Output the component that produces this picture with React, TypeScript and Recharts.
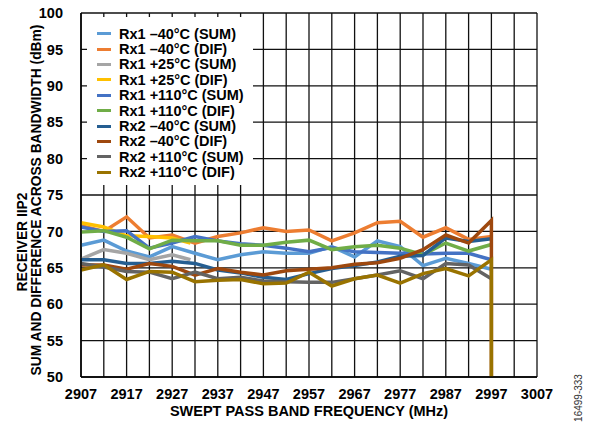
import { CartesianGrid, Legend, Line, LineChart, XAxis, YAxis } from "recharts";

// swept frequencies (MHz), one measurement every 5 MHz
const freqs = [
  2907, 2912, 2917, 2922, 2927, 2932, 2937, 2942, 2947, 2952, 2957, 2962,
  2967, 2972, 2977, 2982, 2987, 2992, 2997,
];
// +25°C sweep stops early
const freqs25 = [2907, 2912, 2917, 2922, 2927, 2931];
// Rx2 DIF traces fall off the bottom at the last point
const freqsDrop = [...freqs, 2997];

const xTicks = [
  2907, 2912, 2917, 2922, 2927, 2932, 2937, 2942, 2947, 2952, 2957, 2962,
  2967, 2972, 2977, 2982, 2987, 2992, 2997, 3002, 3007,
];
const yTicks = [50, 55, 60, 65, 70, 75, 80, 85, 90, 95, 100];

const rx1m40Sum = [68.1, 68.8, 67.3, 66.5, 67.9, 67.0, 66.1, 66.8, 67.2, 67.0, 67.0, 67.9, 66.5, 68.7, 67.9, 65.3, 66.3, 65.6, 64.8];
const rx1m40Dif = [70.8, 70.0, 72.0, 69.1, 69.5, 68.4, 69.3, 69.8, 70.5, 70.0, 70.2, 68.7, 69.8, 71.2, 71.4, 69.2, 70.5, 68.9, 69.3];
const rx1p25Sum = [66.2, 67.5, 67.0, 66.1, 66.8, 66.1];
const rx1p25Dif = [71.2, 70.6, 69.4, 69.3, 69.1, 68.4];
const rx1p110Sum = [70.6, 70.0, 70.1, 67.7, 68.4, 69.3, 68.7, 68.3, 68.1, 67.7, 67.2, 67.8, 67.2, 67.1, 67.0, 66.9, 67.0, 67.0, 66.1];
const rx1p110Dif = [69.9, 70.1, 69.2, 67.6, 68.8, 68.7, 68.7, 68.1, 68.1, 68.5, 68.8, 67.5, 67.9, 68.1, 67.7, 66.8, 68.4, 67.3, 68.2];
const rx2m40Sum = [66.1, 66.1, 65.6, 65.6, 65.9, 65.6, 64.7, 64.3, 63.7, 63.4, 64.2, 64.9, 65.3, 65.8, 66.6, 66.7, 69.1, 68.6, 69.0];
const rx2m40Dif = [65.4, 65.4, 64.8, 65.6, 65.2, 64.0, 64.9, 64.4, 64.0, 64.6, 64.8, 65.0, 65.5, 65.7, 66.3, 67.5, 69.5, 68.4, 71.5, 0];
const rx2p110Sum = [65.6, 65.1, 64.5, 64.4, 63.5, 64.4, 63.5, 63.7, 63.2, 63.1, 63.0, 63.0, 63.5, 64.0, 64.6, 63.5, 65.6, 65.4, 63.5];
const rx2p110Dif = [64.7, 65.4, 63.4, 64.5, 64.4, 63.1, 63.3, 63.4, 62.8, 62.9, 64.4, 62.5, 63.5, 64.0, 62.9, 64.2, 64.9, 63.9, 66.1, 0];

const series = [
  { name: "Rx1 –40°C (SUM)", color: "#5B9BD5", x: freqs, y: rx1m40Sum },
  { name: "Rx1 –40°C (DIF)", color: "#ED7D31", x: freqs, y: rx1m40Dif },
  { name: "Rx1 +25°C (SUM)", color: "#A5A5A5", x: freqs25, y: rx1p25Sum },
  { name: "Rx1 +25°C (DIF)", color: "#FFC000", x: freqs25, y: rx1p25Dif },
  { name: "Rx1 +110°C (SUM)", color: "#4472C4", x: freqs, y: rx1p110Sum },
  { name: "Rx1 +110°C (DIF)", color: "#70AD47", x: freqs, y: rx1p110Dif },
  { name: "Rx2 –40°C (SUM)", color: "#255E91", x: freqs, y: rx2m40Sum },
  { name: "Rx2 –40°C (DIF)", color: "#9E480E", x: freqsDrop, y: rx2m40Dif },
  { name: "Rx2 +110°C (SUM)", color: "#636363", x: freqs, y: rx2p110Sum },
  { name: "Rx2 +110°C (DIF)", color: "#997300", x: freqsDrop, y: rx2p110Dif },
];

const FONT = '"Liberation Sans", Arial, sans-serif';

const renderLegend = () => (
  <div
    style={{
      background: "#fff",
      width: 166,
      height: 168,
      padding: "9px 0 0 10px",
      boxSizing: "border-box",
      fontFamily: FONT,
    }}
  >
    {series.map((s) => (
      <div key={s.name} style={{ display: "flex", alignItems: "center", height: 15.4 }}>
        <span style={{ width: 14, height: 3, background: s.color, marginRight: 8 }} />
        <span style={{ fontSize: 14.5, fontWeight: "bold", color: "#000", whiteSpace: "nowrap" }}>
          {s.name}
        </span>
      </div>
    ))}
  </div>
);

const yTitle = () => (
  <g fontFamily={FONT} fontWeight="bold" fontSize={13.8} fill="#000">
    <text x={22} y={242} transform="rotate(-90 22 242)" textAnchor="middle" dominantBaseline="central">
      RECEIVER IIP2
    </text>
    <text x={36} y={200} transform="rotate(-90 36 200)" textAnchor="middle" dominantBaseline="central">
      SUM AND DIFFERENCE ACROSS BANDWIDTH (dBm)
    </text>
  </g>
);

const xTitle = () => (
  <g fontFamily={FONT} fill="#000">
    <text x={309} y={411} textAnchor="middle" dominantBaseline="central" fontWeight="bold" fontSize={14.5}>
      SWEPT PASS BAND FREQUENCY (MHz)
    </text>
    <text x={578} y={398} transform="rotate(-90 578 398)" textAnchor="middle" dominantBaseline="central" fontSize={10} fill="#333">
      16499-333
    </text>
  </g>
);

export default function App() {
  return (
    <div style={{ position: "absolute", left: 0, top: 0, width: 591, height: 429, background: "#fff" }}>
      <LineChart
        width={591}
        height={429}
        margin={{ top: 13, right: 54, bottom: 0, left: 0 }}
        style={{ fontFamily: FONT }}
      >
        <CartesianGrid stroke="#111" strokeWidth={1.3} />
        <XAxis
          type="number"
          dataKey="f"
          domain={[2907, 3007]}
          ticks={xTicks}
          tickFormatter={(v: number) => ((v - 2907) % 10 === 0 ? String(v) : "")}
          interval={0}
          height={52}
          tickLine={false}
          tickMargin={6}
          axisLine={{ stroke: "#000", strokeWidth: 1.5 }}
          tick={{ fill: "#000", fontSize: 14.5, fontWeight: "bold" }}
          label={{ content: xTitle }}
        />
        <YAxis
          type="number"
          domain={[50, 100]}
          ticks={yTicks}
          allowDataOverflow
          interval={0}
          width={81}
          tickLine={false}
          tickMargin={12}
          axisLine={{ stroke: "#000", strokeWidth: 1.5 }}
          tick={{ fill: "#000", fontSize: 14.5, fontWeight: "bold" }}
          label={{ content: yTitle }}
        />
        <Legend
          layout="vertical"
          align="center"
          verticalAlign="middle"
          content={renderLegend}
          wrapperStyle={{ left: 87, top: 17, width: 166, height: 168 }}
        />
        {series.map((s) => (
          <Line
            key={s.name}
            name={s.name}
            data={s.x.map((f, i) => ({ f, v: s.y[i] }))}
            dataKey="v"
            type="linear"
            stroke={s.color}
            strokeWidth={3.5}
            dot={false}
            activeDot={false}
            isAnimationActive={false}
          />
        ))}
      </LineChart>
    </div>
  );
}
